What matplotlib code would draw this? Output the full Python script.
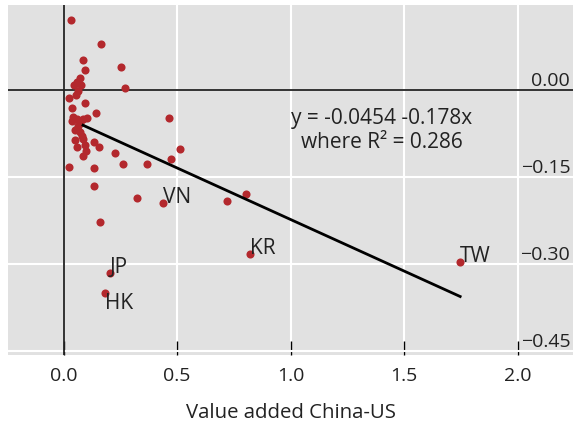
import numpy as np
import matplotlib
matplotlib.use("Agg")
import matplotlib.pyplot as plt

plt.rcParams['font.family'] = ['Open Sans', 'DejaVu Sans']

# value added China-US (x) against change in share (y), one dot per economy
va_china_us = [0.031, 0.167, 0.087, 0.093, 0.253, 0.271, 0.073, 0.058, 0.048, 0.075,
               0.064, 0.026, 0.056, 0.096, 0.037, 0.142, 0.043, 0.036, 0.058, 0.073,
               0.087, 0.102, 0.065, 0.051, 0.073, 0.080, 0.051, 0.087, 0.059, 0.095,
               0.100, 0.087, 0.133, 0.156, 0.227, 0.262, 0.366, 0.465, 0.515, 0.474,
               0.024, 0.134, 0.136, 0.322, 0.440, 0.161, 0.719, 0.803, 0.822, 0.205,
               0.183, 1.747]
share_change = [0.121, 0.079, 0.052, 0.034, 0.039, 0.003, 0.021, 0.014, 0.008, 0.008,
                -0.002, -0.014, -0.008, -0.022, -0.031, -0.040, -0.046, -0.053, -0.050, -0.056,
                -0.050, -0.049, -0.062, -0.069, -0.072, -0.079, -0.086, -0.084, -0.099, -0.095,
                -0.105, -0.114, -0.090, -0.098, -0.109, -0.128, -0.128, -0.049, -0.101, -0.119,
                -0.132, -0.134, -0.165, -0.187, -0.195, -0.228, -0.192, -0.179, -0.283, -0.316,
                -0.350, -0.297]

# labelled economies: name, index into the arrays above, vertical alignment
labels = [("VN", 44, "baseline"), ("KR", 48, "baseline"), ("JP", 49, "baseline"),
          ("HK", 50, "top"), ("TW", 51, "baseline")]

intercept = -0.0454
slope = -0.178
r2 = 0.286
fit_x = [0.086, 1.747]

x_ticks = [0.0, 0.5, 1.0, 1.5, 2.0]
y_ticks = [0.00, -0.15, -0.30, -0.45]

fig = plt.figure(figsize=(5.73, 4.28), dpi=100)
ax = fig.add_axes([0.014, 0.171, 0.986, 0.817])
ax.set_facecolor('#e1e1e1')
for s in ax.spines.values():
    s.set_visible(False)

ax.set_xlim(-0.2445, 2.244)
ax.set_ylim(-0.457, 0.1466)

ax.set_xticks(x_ticks)
ax.set_xticklabels(["%.1f" % t for t in x_ticks])
ax.set_yticks(y_ticks)
ax.set_yticklabels(["%.2f" % t if t == 0 else "\u2212%.2f" % -t for t in y_ticks])
ax.grid(True, color='white', linewidth=1.5)
ax.set_axisbelow(True)

ax.tick_params(axis='x', direction='in', length=10, width=1, color='black',
               labelsize=14, pad=9, colors='#222222')
ax.tick_params(axis='y', left=False, right=False, labelleft=False, labelright=True,
               length=0, pad=-2, labelsize=14, colors='#222222')
for lab in ax.get_yticklabels():
    lab.set_horizontalalignment('right')
    lab.set_verticalalignment('bottom')

ax.axhline(0, color='#222222', linewidth=1.3, zorder=2)
ax.axvline(0, color='#222222', linewidth=1.3, zorder=2)

ax.scatter(va_china_us, share_change, s=34, color='#b3282d', linewidths=0, zorder=3)

fit_x = np.array(fit_x)
ax.plot(fit_x, intercept + slope * fit_x, color='black', linewidth=2, zorder=4)

for name, i, va in labels:
    ax.text(va_china_us[i], share_change[i], name, fontsize=15, color='#222222',
            ha='left', va=va, zorder=5)

ax.text(1.40, -0.070, "y = %.4f %.3fx\nwhere R\u00b2 = %.3f" % (intercept, slope, r2),
        fontsize=15, color='#222222', ha='center', va='center', linespacing=1.15)

ax.set_xlabel("Value added China-US", fontsize=14.7, color='#222222', labelpad=13)

fig.savefig("out.png", dpi=100)
